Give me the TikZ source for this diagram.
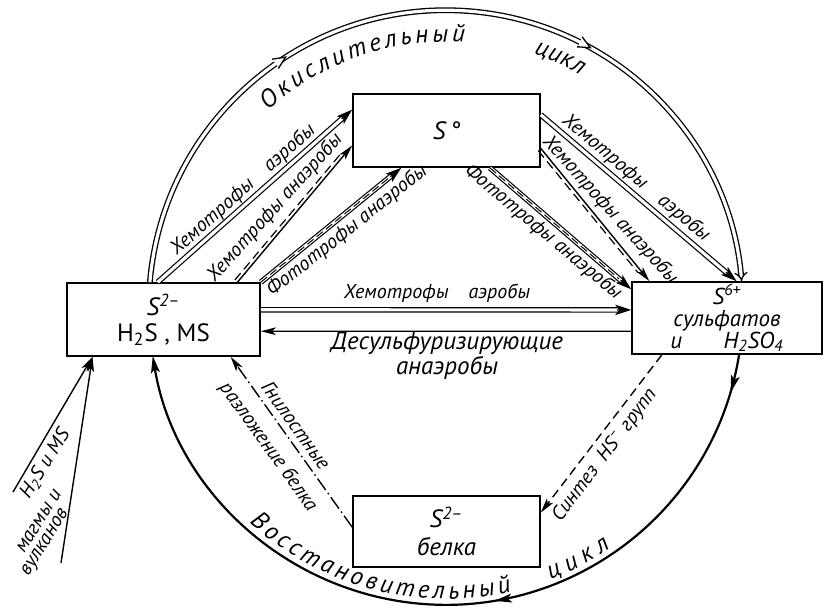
\documentclass[tikz,border=0pt]{standalone}
\usepackage{fontspec}
\setmainfont{PT Sans}
\usetikzlibrary{arrows.meta,calc,decorations.markings,decorations.text}
\newcommand{\arcfont}{\itshape\fontsize{12.5}{14}\selectfont}
\newcommand{\chevron}{\draw[line width=0.65pt,fill=white] (-5pt,2.8pt) -- (1.2pt,0pt) -- (-5pt,-2.8pt);}
% double line ending in a solid head
\newcommand{\dblarrow}[2]{\draw[dblline] (#1) -- (#2); \draw[dbltip] ($(#2)!7pt!(#1)$) -- (#2);}
\tikzset{
  sbox/.style={draw,line width=0.8pt,align=center,inner sep=0.5pt,font=\itshape\fontsize{12.5}{12}\selectfont},
  lbl/.style={font=\itshape\fontsize{10}{12}\selectfont,inner sep=0pt},
  sarr/.style={-{Stealth[length=7.5pt,width=3.8pt,inset=1.8pt]},line width=0.7pt},
  dblline/.style={double,double distance=1.6pt,line width=0.6pt,shorten >=5pt},
  dbltip/.style={-{Stealth[length=8pt,width=5.2pt,inset=2pt]},line width=0.6pt},
  tricore/.style={line width=0.5pt,dash pattern=on 4pt off 2pt,shorten >=8pt},
  sidedash/.style={line width=0.6pt,dash pattern=on 4.5pt off 2.5pt,shorten >=7pt},
  synth/.style={sarr,dash pattern=on 4.5pt off 2.6pt},
  decay/.style={sarr,dash pattern=on 7pt off 1.8pt on 0.8pt off 1.8pt},
  oxarc/.style={double,double distance=1.6pt,line width=0.65pt,-{Implies},
    postaction={decorate},decoration={markings,
      mark=at position 0.306 with {\chevron},
      mark=at position 0.669 with {\chevron}}},
  redarc/.style={line width=1.1pt,-{Stealth[length=8.5pt,width=4.4pt,inset=1.8pt]},
    postaction={decorate},decoration={markings,
      mark=at position 0.046 with {\arrow{Stealth[length=8.5pt,width=4.4pt,inset=1.8pt]}},
      mark=at position 0.442 with {\arrow{Stealth[length=8.5pt,width=4.4pt,inset=1.8pt]}}}}
}
\begin{document}
\begin{tikzpicture}[x=0.5pt,y=0.5pt]
  \useasboundingbox (0,0) rectangle (824,-607);
  % boxes
  \node[sbox,minimum width=93.5pt,minimum height=36.5pt] (sz) at (446.5,-130.5) {S\,°};
  \node[sbox,minimum width=96.5pt,minimum height=36.5pt] (sm) at (163.5,-319.5)
     {S\textsuperscript{2–}\\[1pt]\upshape H\textsubscript{2}S , MS};
  \node[sbox,minimum width=95pt,minimum height=36pt,font=\itshape\fontsize{11.5}{11}\selectfont] (sx) at (727,-318)
     {S\textsuperscript{6+}\\сульфатов\\и\hspace{1.8em}H\textsubscript{2}SO\textsubscript{4}};
  \node[sbox,minimum width=93.5pt,minimum height=35.5pt] (sb) at (446.5,-531.5)
     {S\textsuperscript{2–}\\[2pt]белка};

  % big cycle
  \draw[oxarc] ($(sm.north west)!0.43!(sm.north east)$) arc[start angle=175.17, end angle=5.02, radius=148.5pt];
  \draw[redarc] ($(sx.south west)!0.563!(sx.south east)$) arc[start angle=-9.1, end angle=-170.7, radius=148.5pt];
  \coordinate (c0) at (446,-308);
  \path[decorate,decoration={text along path,text align={fit to path},text={|\arcfont|Окислительный}}]
     ($(c0)+(132:133pt)$) arc[start angle=132, end angle=86, radius=133pt];
  \path[decorate,decoration={text along path,text align={fit to path},text={|\arcfont|цикл}}]
     ($(c0)+(71:134.5pt)$) arc[start angle=71, end angle=60, radius=134.5pt];
  \path[decorate,decoration={text along path,text align={fit to path},text={|\arcfont|Восстановительный}}]
     ($(c0)+(-132.5:145.5pt)$) arc[start angle=-132.5, end angle=-77, radius=145.5pt];
  \path[decorate,decoration={text along path,text align={fit to path},text={|\arcfont|цикл}}]
     ($(c0)+(-69:145.5pt)$) arc[start angle=-69, end angle=-55.5, radius=145.5pt];

  % end points
  \coordinate (p1s) at ($(sm.north west)!0.47!(sm.north east)$);
  \coordinate (p1e) at ($(sz.north west)!0.22!(sz.south west)$);
  \coordinate (p2s) at ($(sm.north west)!0.88!(sm.north east)$);
  \coordinate (p2e) at ($(sz.north west)!0.70!(sz.south west)$);
  \coordinate (p3s) at (sm.north east);
  \coordinate (p3e) at ($(sz.south west)!0.26!(sz.south east)$);
  \coordinate (p4s) at ($(sz.north east)!0.29!(sz.south east)$);
  \coordinate (p4e) at ($(sx.north west)!0.55!(sx.north east)$);
  \coordinate (p5s) at ($(sz.north east)!0.74!(sz.south east)$);
  \coordinate (p5e) at ($(sx.north west)!0.095!(sx.north east)$);
  \coordinate (p6s) at ($(sz.south west)!0.73!(sz.south east)$);
  \coordinate (p6e) at ($(sx.north west)!0.11!(sx.south west)$);
  \coordinate (p7s) at ($(sm.north east)!0.37!(sm.south east)$);
  \coordinate (p7e) at ($(sx.north west)!0.39!(sx.south west)$);

  % S2- to S0
  \dblarrow{p1s}{p1e}
  \draw[sarr] (p2s) -- (p2e);
  \draw[sidedash] ($(p2s)!1.7pt!90:(p2e)$) -- ($(p2e)!1.7pt!-90:(p2s)$);
  \dblarrow{p3s}{p3e}
  \draw[tricore] (p3s) -- (p3e);

  % S0 to S6+
  \dblarrow{p4s}{p4e}
  \draw[sarr] (p5s) -- (p5e);
  \draw[sidedash] ($(p5s)!1.7pt!-90:(p5e)$) -- ($(p5e)!1.7pt!90:(p5s)$);
  \dblarrow{p6s}{p6e}
  \draw[tricore] (p6s) -- (p6e);

  % horizontal pair
  \dblarrow{p7s}{p7e}
  \draw[sarr] ($(sx.north west)!0.68!(sx.south west)$) -- ($(sm.north east)!0.657!(sm.south east)$);

  % protein sulphur
  \draw[synth] ($(sx.south west)!0.16!(sx.south east)$) -- ($(sb.north east)!0.24!(sb.south east)$);
  \draw[decay] ($(sb.north west)!0.44!(sb.south west)$) -- ($(sm.south west)!0.845!(sm.south east)$);

  % volcanic input
  \coordinate (v1) at (13,-492);
  \coordinate (v2) at (61,-563);
  \coordinate (vt) at ($(sm.south west)!0.135!(sm.south east)$);
  \draw[sarr] (v1) -- (vt);
  \draw[sarr] (v2) -- (vt);

  % labels
  \node[lbl,rotate=41.6] (la1) at (243,-190) {Хемотрофы\quad аэробы};
  \node[lbl,rotate=48] (la2) at (275,-208) {Хемотрофы анаэробы};
  \node[lbl,rotate=38.5] (la3) at (347,-231) {Фототрофы анаэробы};
  \node[lbl,rotate=-40] (la4) at (636,-178) {Хемотрофы\quad аэробы};
  \node[lbl,rotate=-48] (la5) at (610,-210) {Хемотрофы анаэробы};
  \node[lbl,rotate=-40] (la6) at (543,-232) {Фототрофы анаэробы};
  \node[lbl] (la7) at (437,-293) {Хемотрофы\quad аэробы};
  \node[lbl,align=center,font=\itshape\fontsize{12.5}{11.5}\selectfont] (la8) at (447,-356) {Десульфуризирующие\\анаэробы};
  \node[lbl,rotate=53] (la9) at (605,-455) {Синтез\ \ HS\textsuperscript{–} групп};
  \node[lbl,rotate=-54.3] (la10) at (296,-425) {Гнилостные};
  \node[lbl,rotate=-54.3] (la11) at (268,-447) {разложение белка};
  \node[lbl,rotate=58] (lv1) at (45,-464) {H\textsubscript{2}S и MS};
  \node[lbl,rotate=58] (lv2) at (39,-521) {магмы и};
  \node[lbl,rotate=58] (lv3) at (46,-543) {вулканов};
\end{tikzpicture}
\end{document}
